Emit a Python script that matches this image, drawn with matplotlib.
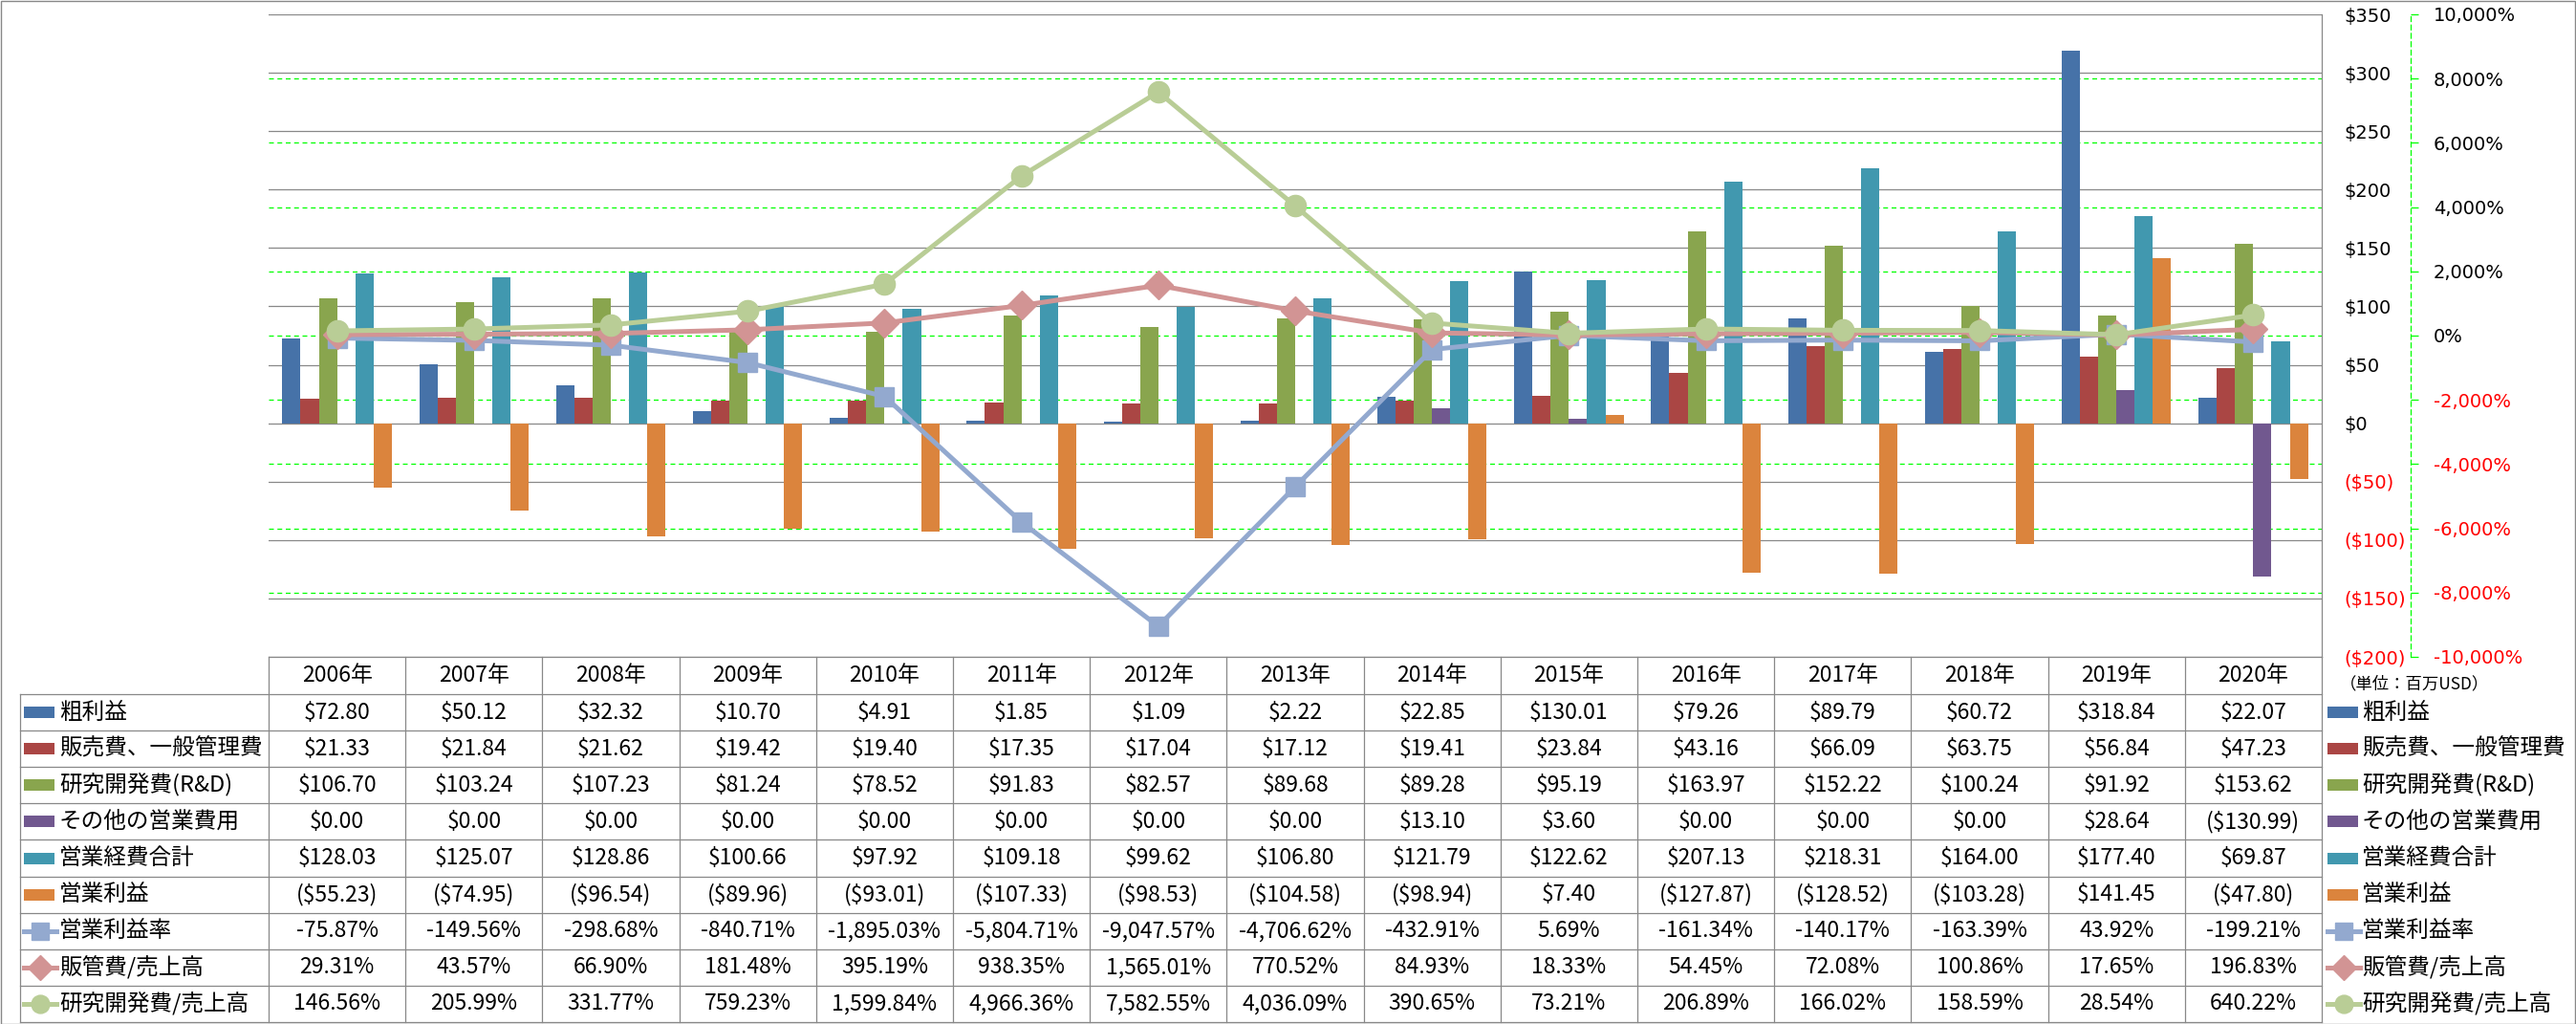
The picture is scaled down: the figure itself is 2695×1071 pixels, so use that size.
import matplotlib
matplotlib.use('Agg')
import matplotlib.pyplot as plt
import matplotlib.transforms as mtransforms
import numpy as np
from matplotlib.lines import Line2D
from matplotlib.patches import Rectangle

W, H = 2695, 1071
DPI = 100

plt.rcParams['font.family'] = ['Noto Sans CJK JP', 'DejaVu Sans']

years = ['2006年', '2007年', '2008年', '2009年', '2010年', '2011年', '2012年', '2013年',
         '2014年', '2015年', '2016年', '2017年', '2018年', '2019年', '2020年']

gross = [72.80, 50.12, 32.32, 10.70, 4.91, 1.85, 1.09, 2.22, 22.85, 130.01, 79.26, 89.79, 60.72, 318.84, 22.07]
sga = [21.33, 21.84, 21.62, 19.42, 19.40, 17.35, 17.04, 17.12, 19.41, 23.84, 43.16, 66.09, 63.75, 56.84, 47.23]
rnd = [106.70, 103.24, 107.23, 81.24, 78.52, 91.83, 82.57, 89.68, 89.28, 95.19, 163.97, 152.22, 100.24, 91.92, 153.62]
other = [0.00, 0.00, 0.00, 0.00, 0.00, 0.00, 0.00, 0.00, 13.10, 3.60, 0.00, 0.00, 0.00, 28.64, -130.99]
opex = [128.03, 125.07, 128.86, 100.66, 97.92, 109.18, 99.62, 106.80, 121.79, 122.62, 207.13, 218.31, 164.00, 177.40, 69.87]
opinc = [-55.23, -74.95, -96.54, -89.96, -93.01, -107.33, -98.53, -104.58, -98.94, 7.40, -127.87, -128.52, -103.28, 141.45, -47.80]

op_margin = [-75.87, -149.56, -298.68, -840.71, -1895.03, -5804.71, -9047.57, -4706.62, -432.91, 5.69,
             -161.34, -140.17, -163.39, 43.92, -199.21]
sga_ratio = [29.31, 43.57, 66.90, 181.48, 395.19, 938.35, 1565.01, 770.52, 84.93, 18.33,
             54.45, 72.08, 100.86, 17.65, 196.83]
rnd_ratio = [146.56, 205.99, 331.77, 759.23, 1599.84, 4966.36, 7582.55, 4036.09, 390.65, 73.21,
             206.89, 166.02, 158.59, 28.54, 640.22]

bar_names = ['粗利益', '販売費、一般管理費', '研究開発費(R&D)', 'その他の営業費用', '営業経費合計', '営業利益']
line_names = ['営業利益率', '販管費/売上高', '研究開発費/売上高']

bar_colors = ['#4672A8', '#AA4644', '#89A54E', '#71588F', '#4198AF', '#DB843D']
line_colors = ['#93A9CF', '#D29494', '#B9CD96']
line_markers = ['s', 'D', 'o']
line_msize = [15, 15, 16]

bar_data = [gross, sga, rnd, other, opex, opinc]
line_data = [op_margin, sga_ratio, rnd_ratio]

GRID_GRAY = '#888888'
LIME = '#00FF00'
CJK = ['Noto Sans CJK JP', 'DejaVu Sans']


def px(v):
    return v / W


def py(v):
    return 1 - v / H


def fmt_usd(v):
    return f'${v:,.2f}' if v >= 0 else f'(${-v:,.2f})'


def fmt_pct(v):
    return f'{v:,.2f}%'


fig = plt.figure(figsize=(W / DPI, H / DPI), dpi=DPI)
fig.patch.set_facecolor('white')

# plot area in pixel coords
AX_L, AX_R, AX_T, AX_B = 281, 2429, 15, 687
ax = fig.add_axes([px(AX_L), py(AX_B), (AX_R - AX_L) / W, (AX_B - AX_T) / H])
ax2 = ax.twinx()

n = len(years)
x = np.arange(n)
bw = 1 / 7.5

for i, (vals, col) in enumerate(zip(bar_data, bar_colors)):
    ax.bar(x + (i - 2.5) * bw, vals, width=bw, color=col, linewidth=0, zorder=2)

ax.set_xlim(-0.5, n - 0.5)
ax.set_ylim(-200, 350)
usd_ticks = np.arange(-200, 351, 50)
ax.set_yticks(usd_ticks, labels=[f'${t}' if t >= 0 else f'(${-t})' for t in usd_ticks])
ax.yaxis.tick_right()
ax.set_xticks([])
ax.grid(axis='y', color=GRID_GRAY, lw=0.9, zorder=0)
ax.set_axisbelow(True)
for s in ['left', 'top', 'bottom']:
    ax.spines[s].set_visible(False)
ax.spines['right'].set_color(GRID_GRAY)
ax.spines['right'].set_linewidth(0.9)
ax.tick_params(axis='y', length=0, pad=17, labelsize=14)
for t, lab in zip(usd_ticks, ax.get_yticklabels()):
    lab.set_fontfamily('DejaVu Sans')
    lab.set_color('red' if t < 0 else 'black')

# secondary axis (percent)
ax2.set_ylim(-10000, 10000)
pct_ticks = np.arange(-10000, 10001, 2000)
ax2.set_yticks(pct_ticks, labels=[f'{t:,}%' for t in pct_ticks])
for s in ['left', 'top', 'bottom']:
    ax2.spines[s].set_visible(False)
ax2.spines['right'].set_position(('axes', (2522 - AX_L) / (AX_R - AX_L)))
ax2.spines['right'].set_color(LIME)
ax2.spines['right'].set_linestyle((0, (4, 3)))
ax2.spines['right'].set_linewidth(0.9)
ax2.tick_params(axis='y', direction='out', length=6, width=0.9, color=LIME, pad=11, labelsize=14)
for t, lab in zip(pct_ticks, ax2.get_yticklabels()):
    lab.set_fontfamily('DejaVu Sans')
    lab.set_color('red' if t < 0 else 'black')

# secondary gridlines, drawn under the bars
gtrans = mtransforms.blended_transform_factory(ax.transAxes, ax2.transData)
for t in pct_ticks[1:-1]:
    ax.plot([0, 1], [t, t], transform=gtrans, color=LIME, lw=0.9, ls=(0, (4, 3)), zorder=1)

for vals, col, mk, ms in zip(line_data, line_colors, line_markers, line_msize):
    ax2.plot(x, vals, color=col, lw=3.6, marker=mk, ms=ms, mec=col, mfc=col, zorder=3)

# ---- data table ----
colw = (AX_R - AX_L) / n
col_edges = [AX_L + k * colw for k in range(n + 1)]
HDR_T, HDR_B, TBL_B = 687, 726, 1069
row_edges = np.linspace(HDR_B, TBL_B, 10)
LBL_L = 21


def hline(x0, x1, y):
    fig.add_artist(Line2D([px(x0), px(x1)], [py(y), py(y)], transform=fig.transFigure,
                          color=GRID_GRAY, lw=0.9))


def vline(xv, y0, y1):
    fig.add_artist(Line2D([px(xv), px(xv)], [py(y0), py(y1)], transform=fig.transFigure,
                          color=GRID_GRAY, lw=0.9))


hline(AX_L, AX_R, HDR_T)
for ye in row_edges:
    hline(LBL_L, AX_R, ye)
for xe in col_edges:
    vline(xe, HDR_T, TBL_B)
vline(LBL_L, HDR_B, TBL_B)

for k, yr in enumerate(years):
    fig.text(px(AX_L + (k + 0.5) * colw), py((HDR_T + HDR_B) / 2), yr,
             ha='center', va='center', fontsize=16.5, family=CJK)

rows = []
for name, vals, col in zip(bar_names, bar_data, bar_colors):
    rows.append((name, [fmt_usd(v) for v in vals], col, None, None))
for name, vals, col, mk, ms in zip(line_names, line_data, line_colors, line_markers, line_msize):
    rows.append((name, [fmt_pct(v) for v in vals], col, mk, ms))


def legend_key(x0, cy, col, mk, ms):
    if mk is None:
        fig.add_artist(Rectangle((px(x0), py(cy + 6)), 32 / W, 12 / H, transform=fig.transFigure,
                                 color=col, lw=0))
    else:
        fig.add_artist(Line2D([px(x0), px(x0 + 34)], [py(cy), py(cy)], transform=fig.transFigure,
                              color=col, lw=3.6))
        fig.add_artist(Line2D([px(x0 + 17)], [py(cy)], transform=fig.transFigure, color=col,
                              marker=mk, ms=ms * 0.85, mec=col, mfc=col))


for r, (name, texts, col, mk, ms) in enumerate(rows):
    cy = (row_edges[r] + row_edges[r + 1]) / 2
    legend_key(25, cy, col, mk, ms)
    fig.text(px(62), py(cy), name, ha='left', va='center', fontsize=17, family=CJK)
    legend_key(2435, cy, col, mk, ms)
    fig.text(px(2471), py(cy), name, ha='left', va='center', fontsize=17, family=CJK)
    for k, s in enumerate(texts):
        fig.text(px(AX_L + (k + 0.5) * colw), py(cy), s, ha='center', va='center',
                 fontsize=16.5, family=CJK)

fig.text(px(2448), py(715), '（単位：百万USD）', ha='left', va='center', fontsize=12.5, family=CJK)

# outer frame
fig.add_artist(Rectangle((0.5 / W, 0.5 / H), 1 - 1.5 / W, 1 - 1.5 / H, transform=fig.transFigure,
                         fill=False, edgecolor=GRID_GRAY, lw=1))

fig.savefig('out.png', dpi=DPI)
